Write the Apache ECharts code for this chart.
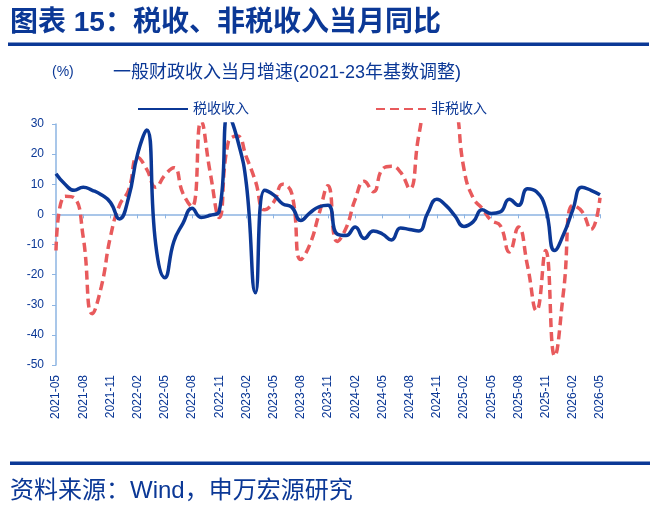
<!DOCTYPE html>
<html>
<head>
<meta charset="utf-8">
<script src="https://cdn.jsdelivr.net/npm/echarts@6/dist/echarts.min.js"></script>
<style>
  html, body { margin: 0; padding: 0; background: #fff; }
  #chart { width: 656px; height: 528px; }
</style>
</head>
<body>
<div id="chart"></div>
<script>
const months = [
  "2021-05", "2021-06", "2021-07", "2021-08", "2021-09", "2021-10", "2021-11", "2021-12",
  "2022-01", "2022-02", "2022-03", "2022-04", "2022-05", "2022-06", "2022-07", "2022-08",
  "2022-09", "2022-10", "2022-11", "2022-12", "2023-01", "2023-02", "2023-03", "2023-04",
  "2023-05", "2023-06", "2023-07", "2023-08", "2023-09", "2023-10", "2023-11", "2023-12",
  "2024-01", "2024-02", "2024-03", "2024-04", "2024-05", "2024-06", "2024-07", "2024-08",
  "2024-09", "2024-10", "2024-11", "2024-12", "2025-01", "2025-02", "2025-03", "2025-04",
  "2025-05", "2025-06", "2025-07", "2025-08", "2025-09", "2025-10", "2025-11", "2025-12",
  "2026-01", "2026-02", "2026-03", "2026-04", "2026-05"
];
// 税收收入 当月同比 (%)
const taxRevenue = [
  13.5, 10, 8, 9, 8, 6.5, 4, -1.5, 5.5, 20, 28, -10, -21, -9, -3, 2,
  -1, -0.3, 1, 33, 25, 10, -26, 8, 6.5, 3.5, 2.4, -2, 0.5, 2.5, 3, -6.5,
  -7, -4.2, -8, -5.5, -6.5, -8.5, -4.5, -5, -5.5, 0.5, 5, 3, -0.5, -4, -2.5, 1.5,
  0.3, 0.8, 5, 3, 8.5, 7.5, 2, -12, -6.5, 1.5, 9, 8, 6.5
];
// 非税收入 当月同比 (%)
const nonTaxRevenue = [
  -12, 6, 5.5, -7.5, -33, -24, -7.5, 3, 8, 19, 15, 9, 13, 15.5, 7, 2.5,
  31, 14, -1, 24, 26, 19, 11, 1.5, 4, 10, 7, -15, -10, 0, 9.5, -9,
  -4.5, 5, 11, 7.5, 15, 16, 14, 8.5, 26, 40, 45, 45, 38, 15, 5.5, 2,
  -2, -3.7, -12.5, -4.2, -17, -32, -12, -47, -25, 3, 1, -5, 5.5
];
const yMin = -50;
const yMax = 30;
const yStep = 10;

const navy = "#0b3896";
const red = "#e85a5c";
const axisBlue = "#8db4e2";
const font = "'Liberation Sans', 'Noto Sans CJK SC', sans-serif";

function initChart() {
  let myChart = echarts.init(document.getElementById("chart"));
  myChart.setOption({
    animation: false,
    grid: {
      left: 56,
      right: 56,
      top: 124,
      height: 241,
    },
    graphic: [
      {
        type: "text",
        x: 10,
        y: 23,
        style: {
          text: "图表 15：税收、非税收入当月同比",
          fill: navy,
          font: "bold 28px " + font,
          verticalAlign: "middle",
        },
      },
      { type: "rect", shape: { x: 8, y: 42.5, width: 641, height: 3.5 }, style: { fill: navy } },
      {
        type: "text",
        x: 52,
        y: 72,
        style: { text: "(%)", fill: navy, font: "14px " + font, verticalAlign: "middle" },
      },
      {
        type: "text",
        x: 113,
        y: 73,
        style: {
          text: "一般财政收入当月增速(2021-23年基数调整)",
          fill: navy,
          font: "18px " + font,
          verticalAlign: "middle",
        },
      },
      { type: "rect", shape: { x: 10, y: 461.5, width: 640, height: 3.5 }, style: { fill: navy } },
      {
        type: "text",
        x: 10,
        y: 491,
        style: {
          text: "资料来源：Wind，申万宏源研究",
          fill: navy,
          font: "24px " + font,
          verticalAlign: "middle",
        },
      },
    ],
    legend: {
      left: 132,
      top: 97,
      itemWidth: 50,
      itemHeight: 14,
      itemGap: 126,
      itemStyle: { opacity: 0 },
      textStyle: { color: navy, fontSize: 14, fontFamily: font },
      data: ["税收收入", "非税收入"],
    },
    xAxis: [
      {
        type: "category",
        data: months,
        position: "bottom",
        boundaryGap: false,
        axisLine: { onZero: true, lineStyle: { color: axisBlue, width: 1.5 } },
        axisTick: { interval: 2, length: 4, lineStyle: { color: axisBlue } },
        axisLabel: { show: false },
        splitLine: { show: false },
      },
      {
        type: "category",
        data: months,
        position: "bottom",
        boundaryGap: false,
        axisLine: { show: false, onZero: false },
        axisTick: { show: false },
        axisLabel: {
          interval: 2,
          rotate: 90,
          margin: 10,
          padding: [12, 0, 0, 0],
          color: navy,
          fontSize: 12,
          fontFamily: font,
        },
      },
    ],
    yAxis: {
      type: "value",
      min: yMin,
      max: yMax,
      interval: yStep,
      axisLine: { show: true, lineStyle: { color: axisBlue, width: 1.5 } },
      axisTick: { show: true, length: 4, lineStyle: { color: axisBlue } },
      axisLabel: { color: navy, fontSize: 12, fontFamily: font, margin: 12 },
      splitLine: { show: false },
    },
    series: [
      {
        name: "税收收入",
        type: "line",
        xAxisIndex: 0,
        data: taxRevenue,
        smooth: true,
        symbol: "none",
        lineStyle: { color: navy, width: 3.5 },
        itemStyle: { color: navy },
        z: 3,
      },
      {
        name: "非税收入",
        type: "line",
        xAxisIndex: 0,
        data: nonTaxRevenue,
        smooth: true,
        symbol: "none",
        lineStyle: { color: red, width: 3.5, type: [9, 5] },
        itemStyle: { color: red },
        z: 2,
      },
    ],
  });
}
initChart();
</script>
</body>
</html>
